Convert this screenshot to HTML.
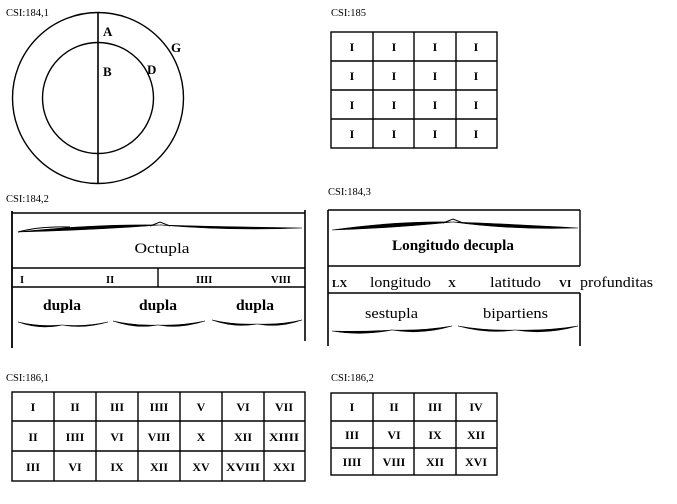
<!DOCTYPE html>
<html><head><meta charset="utf-8"><style>
html,body{margin:0;padding:0;background:#fff;width:677px;height:504px;overflow:hidden}
svg{display:block}
.lab{font-family:"Liberation Serif",serif;font-size:10.5px;fill:#000}
.t{font-family:"Liberation Serif",serif;font-weight:bold;fill:#000}
.w{font-family:"Liberation Serif",serif;fill:#000}
</style></head><body>
<svg width="677" height="504" viewBox="0 0 677 504" xmlns="http://www.w3.org/2000/svg">
<g fill="none" stroke="#000" stroke-width="1.4">
<circle cx="98" cy="98" r="85.5"/>
<circle cx="98" cy="98" r="55.5"/>
<line x1="98" y1="12" x2="98" y2="184" stroke-width="1.6"/>
<rect x="331" y="32" width="166" height="116"/>
<line x1="373" y1="32" x2="373" y2="148"/><line x1="414" y1="32" x2="414" y2="148"/><line x1="456" y1="32" x2="456" y2="148"/>
<line x1="331" y1="61" x2="497" y2="61"/><line x1="331" y1="90" x2="497" y2="90"/><line x1="331" y1="119" x2="497" y2="119"/>
<line x1="12" y1="211" x2="12" y2="348" stroke-width="1.8"/>
<line x1="305" y1="210" x2="305" y2="341" stroke-width="1.6"/>
<line x1="12" y1="213" x2="305" y2="213"/>
<line x1="12" y1="268" x2="305" y2="268"/>
<line x1="12" y1="287" x2="305" y2="287"/>
<line x1="158" y1="268" x2="158" y2="287"/>
<line x1="328" y1="210" x2="328" y2="346" stroke-width="1.6"/>
<line x1="580" y1="210" x2="580" y2="266"/>
<line x1="580" y1="293" x2="580" y2="346" stroke-width="1.6"/>
<line x1="328" y1="210" x2="580" y2="210"/>
<line x1="328" y1="266" x2="580" y2="266"/>
<line x1="328" y1="293" x2="580" y2="293"/>
<rect x="12" y="392" width="293" height="89"/>
<line x1="54" y1="392" x2="54" y2="481"/><line x1="96" y1="392" x2="96" y2="481"/><line x1="138" y1="392" x2="138" y2="481"/><line x1="180" y1="392" x2="180" y2="481"/><line x1="222" y1="392" x2="222" y2="481"/><line x1="264" y1="392" x2="264" y2="481"/>
<line x1="12" y1="421" x2="305" y2="421"/><line x1="12" y1="451" x2="305" y2="451"/>
<rect x="331" y="393" width="166" height="82"/>
<line x1="373" y1="393" x2="373" y2="475"/><line x1="414" y1="393" x2="414" y2="475"/><line x1="456" y1="393" x2="456" y2="475"/>
<line x1="331" y1="421" x2="497" y2="421"/><line x1="331" y1="448" x2="497" y2="448"/>
</g>
<g fill="#000" stroke="#000" stroke-width="0.6">
<path d="M18 232 Q95 224 160 225 Q95 230 18 232Z"/>
<path d="M302 228 Q230 231 160 225 Q230 227 302 228Z"/>
<path d="M332 230 Q395 221 453 222 Q395 228 332 230Z"/>
<path d="M578 228 Q510 230 453 222 Q510 224 578 228Z"/>
<path d="M18 322 Q40 330 62 325 Q40 327 18 322Z"/>
<path d="M108 322 Q84 329 62 325 Q84 327 108 322Z"/>
<path d="M113 321 Q136 329 158 325 Q136 326 113 321Z"/>
<path d="M205 321 Q180 329 158 325 Q180 326 205 321Z"/>
<path d="M212 320 Q234 328 257 324 Q234 325 212 320Z"/>
<path d="M302 320 Q280 328 257 324 Q280 325 302 320Z"/>
<path d="M332 331 Q362 336 392 330 Q362 332 332 331Z"/>
<path d="M452 326 Q422 335 392 330 Q422 331 452 326Z"/>
<path d="M458 326 Q487 334 515 330 Q487 331 458 326Z"/>
<path d="M578 326 Q546 335 515 330 Q546 331 578 326Z"/>
</g>
<g fill="none" stroke="#000" stroke-width="1">
<path d="M18 232 Q40 226 70 227"/><path d="M150 226 L160 222 L170 226"/><path d="M443 223 L453 219 L463 223"/>
</g>
<text class="lab" x="6" y="16">CSI:184,1</text>
<text class="lab" x="331" y="16">CSI:185</text>
<text class="lab" x="6" y="202">CSI:184,2</text>
<text class="lab" x="328" y="195">CSI:184,3</text>
<text class="lab" x="6" y="381">CSI:186,1</text>
<text class="lab" x="331" y="381">CSI:186,2</text>
<g class="t" font-size="13">
<text x="103" y="36">A</text><text x="103" y="76">B</text><text x="147" y="74">D</text><text x="171" y="52">G</text>
</g>
<g class="t" font-size="12" text-anchor="middle">
<text x="352" y="51">I</text><text x="394" y="51">I</text><text x="435" y="51">I</text><text x="476" y="51">I</text>
<text x="352" y="80">I</text><text x="394" y="80">I</text><text x="435" y="80">I</text><text x="476" y="80">I</text>
<text x="352" y="109">I</text><text x="394" y="109">I</text><text x="435" y="109">I</text><text x="476" y="109">I</text>
<text x="352" y="138">I</text><text x="394" y="138">I</text><text x="435" y="138">I</text><text x="476" y="138">I</text>
</g>
<text class="w" x="162" y="253" font-size="15" text-anchor="middle" textLength="55" lengthAdjust="spacingAndGlyphs">Octupla</text>
<g class="t" font-size="10.5">
<text x="20" y="283">I</text><text x="106" y="283">II</text><text x="196" y="283">IIII</text><text x="271" y="283">VIII</text>
</g>
<g class="w" font-size="15" font-weight="bold" text-anchor="middle">
<text x="62" y="310" textLength="38" lengthAdjust="spacingAndGlyphs">dupla</text>
<text x="158" y="310" textLength="38" lengthAdjust="spacingAndGlyphs">dupla</text>
<text x="255" y="310" textLength="38" lengthAdjust="spacingAndGlyphs">dupla</text>
</g>
<text class="w" x="453" y="250" font-size="15" font-weight="bold" text-anchor="middle" textLength="122" lengthAdjust="spacingAndGlyphs">Longitudo decupla</text>
<g class="w" font-size="15">
<text x="332" y="287" font-size="11" font-weight="bold">LX</text>
<text x="370" y="287" textLength="61" lengthAdjust="spacingAndGlyphs">longitudo</text>
<text x="448" y="287" font-size="11" font-weight="bold">X</text>
<text x="490" y="287" textLength="51" lengthAdjust="spacingAndGlyphs">latitudo</text>
<text x="559" y="287" font-size="11" font-weight="bold">VI</text>
<text x="580" y="287" textLength="73" lengthAdjust="spacingAndGlyphs">profunditas</text>
<text x="365" y="318" textLength="53" lengthAdjust="spacingAndGlyphs">sestupla</text>
<text x="483" y="318" textLength="65" lengthAdjust="spacingAndGlyphs">bipartiens</text>
</g>
<g class="t" font-size="12" text-anchor="middle">
<text x="33" y="411">I</text><text x="75" y="411">II</text><text x="117" y="411">III</text><text x="159" y="411">IIII</text><text x="201" y="411">V</text><text x="243" y="411">VI</text><text x="284" y="411">VII</text>
<text x="33" y="441">II</text><text x="75" y="441">IIII</text><text x="117" y="441">VI</text><text x="159" y="441">VIII</text><text x="201" y="441">X</text><text x="243" y="441">XII</text><text x="284" y="441" textLength="30" lengthAdjust="spacingAndGlyphs">XIIII</text>
<text x="33" y="471">III</text><text x="75" y="471">VI</text><text x="117" y="471">IX</text><text x="159" y="471">XII</text><text x="201" y="471">XV</text><text x="243" y="471" textLength="34" lengthAdjust="spacingAndGlyphs">XVIII</text><text x="284" y="471">XXI</text>
</g>
<g class="t" font-size="12" text-anchor="middle">
<text x="352" y="411">I</text><text x="394" y="411">II</text><text x="435" y="411">III</text><text x="476" y="411">IV</text>
<text x="352" y="439">III</text><text x="394" y="439">VI</text><text x="435" y="439">IX</text><text x="476" y="439">XII</text>
<text x="352" y="466">IIII</text><text x="394" y="466">VIII</text><text x="435" y="466">XII</text><text x="476" y="466">XVI</text>
</g>
</svg>
</body></html>
